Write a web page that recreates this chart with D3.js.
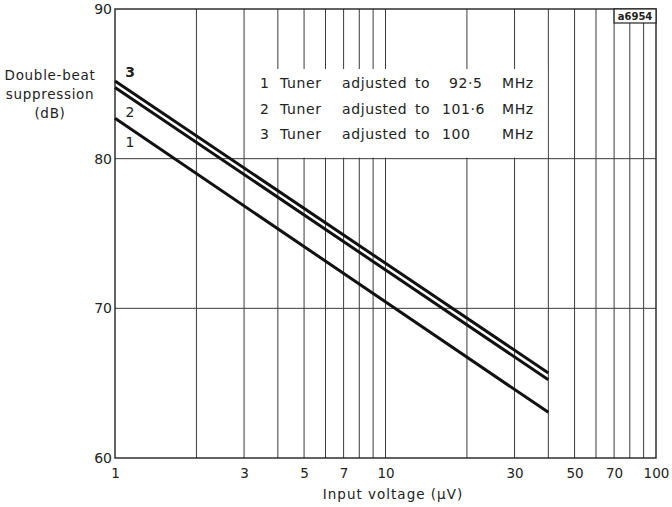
<!DOCTYPE html>
<html>
<head>
<meta charset="utf-8">
<script src="https://cdn.jsdelivr.net/npm/d3@7/dist/d3.min.js"></script>
<style>
  body { margin: 0; background: #fff; }
  svg { display: block; }
  text { font-family: "DejaVu Sans", sans-serif; fill: #222; }
</style>
</head>
<body>
<svg id="chart" width="672" height="507"></svg>
<script>
// Input voltage range (µV) over which each curve was measured
const inputVoltage = [1, 40];
// Double-beat suppression (dB) at the ends of that range
const curve1 = [82.7, 63.05];   // 92.5 MHz
const curve2 = [84.76, 65.23];  // 101.6 MHz
const curve3 = [85.19, 65.68];  // 100 MHz
const curveNames = ["1", "2", "3"];
const legendRows = [
  ["1", "Tuner", "adjusted", "to", "92·5", "MHz"],
  ["2", "Tuner", "adjusted", "to", "101·6", "MHz"],
  ["3", "Tuner", "adjusted", "to", "100", "MHz"]
];
const xTickValues = [1, 3, 5, 7, 10, 30, 50, 70, 100];
const xGridValues = [2, 3, 4, 5, 6, 7, 8, 9, 10, 20, 30, 40, 50, 60, 70, 80, 90];
const yTickValues = [60, 70, 80, 90];
const yGridValues = [70, 80];

const svg = d3.select("#chart");
const L = 115, R = 656, T = 9, B = 458;

const x = d3.scaleLog().domain([1, 100]).range([L, R]);
const y = d3.scaleLinear().domain([60, 90]).range([B, T]);

// grid
const grid = svg.append("g").attr("stroke", "#3a3a3a").attr("stroke-width", 1);
grid.selectAll("line.v").data(xGridValues).join("line")
  .attr("x1", d => x(d)).attr("x2", d => x(d))
  .attr("y1", T).attr("y2", B);
grid.selectAll("line.h").data(yGridValues).join("line")
  .attr("x1", L).attr("x2", R)
  .attr("y1", d => y(d)).attr("y2", d => y(d));

// legend panel clears the grid between the 3 µV and 40 µV lines
svg.append("rect")
  .attr("x", x(3) + 1).attr("y", 69)
  .attr("width", x(40) - x(3) - 2).attr("height", y(80) - 69 - 1)
  .attr("fill", "#fff");

// frame
svg.append("rect")
  .attr("x", L).attr("y", T).attr("width", R - L).attr("height", B - T)
  .attr("fill", "none").attr("stroke", "#222").attr("stroke-width", 1.4);

// drawing number box
svg.append("rect")
  .attr("x", x(70)).attr("y", T).attr("width", R - x(70)).attr("height", 14)
  .attr("fill", "#fff").attr("stroke", "#222").attr("stroke-width", 1.2);
svg.append("text")
  .attr("x", (x(70) + R) / 2).attr("y", T + 11)
  .attr("text-anchor", "middle").attr("font-size", 10).attr("font-weight", "bold")
  .text("a6954");

// axes
const xAxis = d3.axisBottom(x).tickValues(xTickValues).tickSize(0).tickPadding(10)
  .tickFormat(d3.format("d"));
const gx = svg.append("g").attr("transform", `translate(0,${B})`).call(xAxis);
gx.select(".domain").remove();
gx.selectAll("text").attr("font-size", 13.5).attr("font-family", "DejaVu Sans").attr("fill", "#222");

const yAxis = d3.axisLeft(y).tickValues(yTickValues).tickSize(0).tickPadding(3)
  .tickFormat(d3.format("d"));
const gy = svg.append("g").attr("transform", `translate(${L},0)`).call(yAxis);
gy.select(".domain").remove();
gy.selectAll("text").attr("font-size", 14).attr("font-family", "DejaVu Sans").attr("fill", "#222");

// axis titles
svg.append("text")
  .attr("x", 393).attr("y", 499).attr("text-anchor", "middle").attr("font-size", 13.5)
  .attr("letter-spacing", 1)
  .text("Input  voltage (µV)");
const yTitle = svg.append("text").attr("text-anchor", "middle").attr("font-size", 13.5)
  .attr("letter-spacing", 0.7);
["Double-beat", "suppression", "(dB)"].forEach((s, i) => {
  yTitle.append("tspan").attr("x", 50).attr("y", 80 + i * 19).text(s);
});

// curves
const line = d3.line().x(d => x(d[0])).y(d => y(d[1]));
[curve1, curve2, curve3].forEach(c => {
  svg.append("path")
    .datum(inputVoltage.map((v, i) => [v, c[i]]))
    .attr("d", line)
    .attr("fill", "none").attr("stroke", "#111").attr("stroke-width", 3);
});

// curve numbers
const labelY = [147, 117, 77];
curveNames.forEach((n, i) => {
  svg.append("text").attr("x", 130).attr("y", labelY[i])
    .attr("text-anchor", "middle").attr("font-size", 14)
    .attr("font-weight", i === 2 ? "bold" : "normal").text(n);
});

// legend text
const colX = [260, 280, 342, 415, 449, 502];
legendRows.forEach((row, r) => {
  row.forEach((s, c) => {
    let cx = colX[c];
    if (c === 4 && s !== "92·5") cx = 442;
    svg.append("text").attr("x", cx).attr("y", 88 + r * 25.5)
      .attr("font-size", 14).attr("letter-spacing", 0.6).text(s);
  });
});
</script>
</body>
</html>
